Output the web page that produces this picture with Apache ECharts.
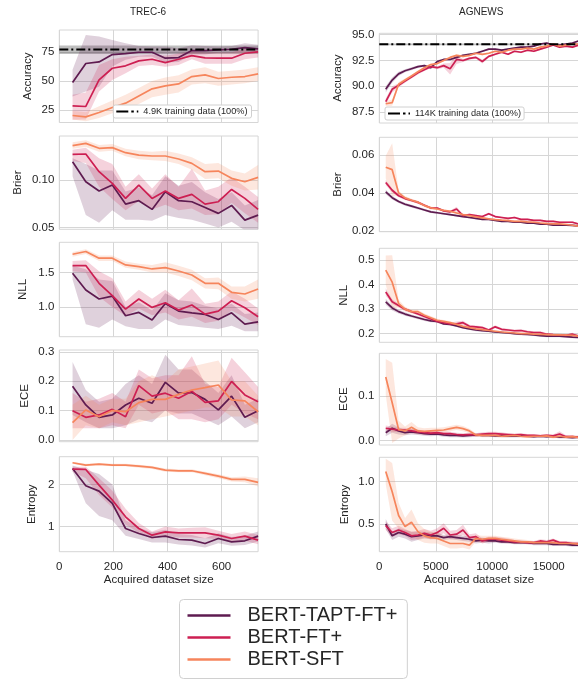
<!DOCTYPE html>
<html><head><meta charset="utf-8">
<script src="https://cdn.jsdelivr.net/npm/echarts@6/dist/echarts.min.js"></script>
<style>html,body{margin:0;padding:0;background:#fff}#c{width:578px;height:680px}</style>
</head><body><div id="c"></div>
<script>
const NAMES = ['BERT-TAPT-FT+','BERT-FT+','BERT-SFT'];
const COLORS = ['#5e1b50','#cd1f52','#f6855c'];
const BAND = ['rgba(94,27,80,0.2)','rgba(205,31,82,0.2)','rgba(246,133,92,0.2)'];
const REF_TREC_NAME = '4.9K training data (100%)';
const REF_AG_NAME = '114K training data (100%)';

const TREC_X = [49,98,147,196,245,294,343,392,441,490,539,588,637,686,735];
const AG_X = [570,1140,1710,2280,2850,3420,3990,4560,5130,5700,6270,6840,7410,7980,8550,9120,9690,10260,10830,11400,11970,12540,13110,13680,14250,14820,15390,15960,16530,17100,17670];
const TREC_XTICKS = [0,200,400,600];
const AG_XTICKS = [0,5000,10000,15000];

// TREC-6 accuracy
const TREC_REF_ACC = 77.3, TREC_REF_LO = 73.5, TREC_REF_HI = 80.8;
const TREC_ACC_TAPT = [48.7,65.2,66.6,73.0,73.8,75.0,75.0,69.8,70.4,76.4,76.4,77.0,77.6,79.0,77.9];
const TREC_ACC_TAPT_LO = [36.6,40.9,45.0,62.6,68.4,71.0,71.0,66.0,66.5,73.0,73.0,74.5,74.5,75.5,74.5];
const TREC_ACC_TAPT_HI = [59.7,90.0,88.6,85.7,82.8,80.5,80.0,79.9,78.5,81.0,80.5,80.0,80.5,82.8,81.5];
const TREC_ACC_FT = [28.5,27.9,51.0,61.1,63.2,67.5,68.9,66.0,68.9,72.1,70.1,69.8,69.8,74.1,75.3];
const TREC_ACC_FT_LO = [16.3,16.5,40.9,51.0,56.8,63.0,64.0,62.5,64.0,69.0,65.0,65.0,65.0,69.0,70.5];
const TREC_ACC_FT_HI = [38.0,40.0,64.0,68.9,71.0,72.0,73.0,72.0,74.0,76.0,75.0,75.0,75.0,78.0,78.0];
const TREC_ACC_SFT = [20.1,18.9,22.7,27.0,30.8,37.1,43.2,45.8,47.5,53.9,55.3,52.2,53.3,53.9,56.2];
const TREC_ACC_SFT_LO = [16.5,15.0,18.0,22.0,24.0,30.0,36.0,38.0,40.0,47.0,48.0,46.0,47.0,48.0,50.0];
const TREC_ACC_SFT_HI = [24.0,23.0,28.0,33.0,38.0,44.0,50.0,53.0,55.0,60.0,62.0,58.0,59.0,60.0,62.0];
// TREC-6 Brier
const TREC_BRIER_TAPT = [0.1194,0.0982,0.0884,0.0947,0.0746,0.0782,0.0690,0.0877,0.0782,0.0771,0.0711,0.0648,0.0732,0.0577,0.0630];
const TREC_BRIER_TAPT_LO = [0.104,0.063,0.055,0.068,0.058,0.058,0.057,0.063,0.060,0.058,0.054,0.050,0.056,0.047,0.047];
const TREC_BRIER_TAPT_HI = [0.123,0.117,0.110,0.110,0.088,0.092,0.084,0.104,0.094,0.098,0.087,0.080,0.087,0.073,0.079];
const TREC_BRIER_FT = [0.1271,0.1275,0.1088,0.0965,0.0806,0.0947,0.0806,0.0884,0.0806,0.0849,0.0746,0.0771,0.0901,0.0806,0.0690];
const TREC_BRIER_FT_LO = [0.120,0.118,0.093,0.080,0.068,0.078,0.069,0.074,0.068,0.070,0.063,0.064,0.076,0.065,0.055];
const TREC_BRIER_FT_HI = [0.132,0.134,0.123,0.117,0.093,0.106,0.091,0.106,0.093,0.112,0.089,0.093,0.103,0.093,0.082];
const TREC_BRIER_SFT = [0.1363,0.1387,0.1335,0.1342,0.1289,0.1264,0.1254,0.1254,0.1222,0.1176,0.1088,0.1095,0.1018,0.0982,0.1028];
const TREC_BRIER_SFT_LO = [0.133,0.135,0.130,0.131,0.125,0.122,0.121,0.120,0.117,0.111,0.101,0.102,0.094,0.089,0.090];
const TREC_BRIER_SFT_HI = [0.140,0.142,0.137,0.138,0.133,0.131,0.130,0.131,0.128,0.124,0.117,0.118,0.110,0.107,0.116];
// TREC-6 NLL
const TREC_NLL_TAPT = [1.490,1.248,1.117,1.160,0.874,0.922,0.811,1.053,0.942,0.917,0.893,0.820,0.917,0.752,0.786];
const TREC_NLL_TAPT_LO = [1.40,0.75,0.70,0.82,0.72,0.68,0.68,0.82,0.74,0.72,0.70,0.68,0.73,0.65,0.65];
const TREC_NLL_TAPT_HI = [1.60,1.55,1.40,1.38,1.00,1.07,0.95,1.20,1.10,1.08,1.02,0.98,1.05,0.90,0.92];
const TREC_NLL_FT = [1.602,1.602,1.345,1.165,0.971,1.117,0.995,1.063,0.956,1.029,0.898,0.942,1.092,0.990,0.859];
const TREC_NLL_FT_LO = [1.52,1.50,1.15,1.00,0.87,0.98,0.88,0.92,0.82,0.86,0.77,0.80,0.95,0.85,0.74];
const TREC_NLL_FT_HI = [1.67,1.68,1.52,1.42,1.08,1.25,1.12,1.25,1.10,1.27,1.05,1.08,1.23,1.12,0.98];
const TREC_NLL_SFT = [1.767,1.806,1.709,1.709,1.612,1.587,1.553,1.573,1.524,1.466,1.345,1.345,1.214,1.190,1.262];
const TREC_NLL_SFT_LO = [1.73,1.77,1.67,1.67,1.57,1.54,1.50,1.50,1.45,1.39,1.27,1.26,1.12,1.08,1.12];
const TREC_NLL_SFT_HI = [1.80,1.84,1.75,1.75,1.66,1.63,1.61,1.65,1.60,1.54,1.42,1.43,1.30,1.30,1.40];
// TREC-6 ECE
const TREC_ECE_TAPT = [0.183,0.119,0.077,0.085,0.119,0.142,0.125,0.196,0.159,0.161,0.138,0.102,0.149,0.077,0.099];
const TREC_ECE_TAPT_LO = [0.085,0.06,0.04,0.04,0.05,0.07,0.06,0.10,0.09,0.09,0.07,0.05,0.08,0.04,0.06];
const TREC_ECE_TAPT_HI = [0.265,0.17,0.13,0.14,0.19,0.22,0.19,0.29,0.24,0.24,0.20,0.16,0.22,0.12,0.14];
const TREC_ECE_FT = [0.099,0.077,0.085,0.104,0.079,0.185,0.149,0.159,0.142,0.166,0.128,0.133,0.199,0.153,0.130];
const TREC_ECE_FT_LO = [0.04,0.04,0.04,0.05,0.04,0.12,0.09,0.10,0.07,0.07,0.06,0.07,0.12,0.09,0.07];
const TREC_ECE_FT_HI = [0.16,0.13,0.14,0.16,0.13,0.24,0.21,0.22,0.22,0.285,0.19,0.18,0.28,0.23,0.18];
const TREC_ECE_SFT = [0.059,0.102,0.079,0.100,0.096,0.127,0.138,0.138,0.155,0.170,0.178,0.187,0.136,0.133,0.096];
const TREC_ECE_SFT_LO = [0.0,0.05,0.04,0.06,0.05,0.06,0.07,0.08,0.09,0.10,0.11,0.11,0.08,0.08,0.05];
const TREC_ECE_SFT_HI = [0.12,0.15,0.12,0.14,0.14,0.20,0.22,0.20,0.24,0.25,0.26,0.27,0.20,0.20,0.15];
// TREC-6 Entropy
const TREC_ENT_TAPT = [2.381,1.968,1.841,1.548,0.952,0.833,0.738,0.770,0.690,0.675,0.595,0.714,0.635,0.659,0.770];
const TREC_ENT_TAPT_LO = [2.32,1.55,1.25,1.15,0.78,0.70,0.62,0.62,0.57,0.55,0.50,0.60,0.54,0.56,0.64];
const TREC_ENT_TAPT_HI = [2.45,2.35,2.25,2.00,1.15,0.97,0.86,0.92,0.82,0.80,0.72,0.84,0.75,0.78,0.88];
const TREC_ENT_FT = [2.365,2.357,1.984,1.627,1.230,0.952,0.794,0.873,0.849,0.849,0.849,0.794,0.714,0.770,0.675];
const TREC_ENT_FT_LO = [2.30,2.15,1.75,1.45,1.05,0.85,0.70,0.78,0.74,0.74,0.72,0.70,0.63,0.66,0.58];
const TREC_ENT_FT_HI = [2.42,2.42,2.15,1.85,1.42,1.08,0.88,1.00,0.95,0.97,0.98,0.90,0.82,0.88,0.80];
const TREC_ENT_SFT = [2.516,2.460,2.484,2.460,2.460,2.437,2.405,2.341,2.325,2.325,2.262,2.198,2.119,2.119,2.048];
const TREC_ENT_SFT_LO = [2.49,2.43,2.45,2.43,2.43,2.40,2.37,2.30,2.29,2.29,2.22,2.15,2.07,2.05,1.95];
const TREC_ENT_SFT_HI = [2.54,2.49,2.51,2.49,2.49,2.47,2.44,2.38,2.36,2.36,2.30,2.24,2.17,2.19,2.15];

// AGNEWS accuracy
const AG_REF_ACC = 94.07, AG_REF_LO = 93.99, AG_REF_HI = 94.15;
const AG_ACC_TAPT = [89.7,90.6,91.2,91.5,91.7,91.9,92.0,91.8,92.4,92.6,92.6,92.8,93.0,93.1,93.2,93.4,93.6,93.6,93.5,93.6,93.7,93.8,93.8,93.9,94.1,94.2,94.0,94.0,94.1,94.2,94.4];
const AG_ACC_TAPT_SD = [0.30,0.25,0.20,0.15,0.15,0.12,0.12,0.15,0.12,0.10,0.10,0.10,0.10,0.10,0.10,0.10,0.08,0.08,0.08,0.08,0.08,0.08,0.08,0.08,0.08,0.08,0.08,0.08,0.08,0.08,0.08];
const AG_ACC_FT = [88.5,89.7,90.1,90.5,90.9,91.3,91.6,91.9,91.8,92.0,91.7,92.6,92.5,92.7,92.8,92.4,92.9,93.1,93.3,93.1,93.4,93.3,93.5,93.4,93.6,93.8,94.0,93.8,93.9,93.8,94.0];
const AG_ACC_FT_SD = [0.30,0.30,0.20,0.15,0.15,0.15,0.12,0.12,0.15,0.20,0.55,0.45,0.15,0.12,0.12,0.20,0.12,0.10,0.10,0.10,0.10,0.10,0.10,0.10,0.10,0.10,0.10,0.10,0.10,0.10,0.10];
const AG_ACC_SFT = [88.3,88.4,90.2,90.6,91.0,91.4,91.8,92.1,92.2,92.5,92.8,93.0,92.9,93.0,93.2,93.1,93.2,93.4,93.3,93.5,93.6,93.6,93.7,93.6,93.8,93.9,94.1,93.9,94.0,94.1,94.1];
const AG_ACC_SFT_SD = [0.25,0.30,0.20,0.15,0.12,0.12,0.10,0.10,0.10,0.10,0.10,0.10,0.10,0.10,0.10,0.10,0.10,0.10,0.10,0.10,0.08,0.08,0.08,0.08,0.08,0.08,0.08,0.08,0.08,0.08,0.08];
// AGNEWS Brier
const AG_BRIER_TAPT = [0.0405,0.0375,0.0355,0.0340,0.0330,0.0320,0.0310,0.0300,0.0295,0.0290,0.0285,0.0280,0.0275,0.0270,0.0265,0.0260,0.0260,0.0255,0.0250,0.0250,0.0245,0.0245,0.0240,0.0240,0.0235,0.0235,0.0230,0.0230,0.0230,0.0228,0.0225];
const AG_BRIER_TAPT_SD = [0.0012,0.0010,0.0008,0.0008,0.0007,0.0007,0.0006,0.0006,0.0006,0.0006,0.0005,0.0005,0.0005,0.0005,0.0005,0.0005,0.0005,0.0005,0.0005,0.0004,0.0004,0.0004,0.0004,0.0004,0.0004,0.0004,0.0004,0.0004,0.0004,0.0004,0.0004];
const AG_BRIER_FT = [0.0455,0.0414,0.0385,0.0370,0.0360,0.0350,0.0335,0.0320,0.0320,0.0305,0.0300,0.0315,0.0280,0.0285,0.0280,0.0275,0.0290,0.0275,0.0270,0.0265,0.0270,0.0260,0.0260,0.0255,0.0255,0.0250,0.0250,0.0245,0.0245,0.0245,0.0235];
const AG_BRIER_FT_SD = [0.0015,0.0010,0.0008,0.0008,0.0007,0.0007,0.0006,0.0006,0.0006,0.0006,0.0006,0.0012,0.0006,0.0006,0.0005,0.0005,0.0006,0.0005,0.0005,0.0005,0.0005,0.0005,0.0005,0.0005,0.0005,0.0006,0.0005,0.0005,0.0005,0.0005,0.0005];
const AG_BRIER_SFT = [0.0536,0.0523,0.0400,0.0374,0.0361,0.0351,0.0333,0.0321,0.0315,0.0308,0.0303,0.0294,0.0285,0.0280,0.0273,0.0268,0.0263,0.0259,0.0256,0.0254,0.0250,0.0250,0.0247,0.0245,0.0241,0.0238,0.0236,0.0236,0.0233,0.0229,0.0224];
const AG_BRIER_SFT_SD = [0.0060,0.0140,0.0012,0.0010,0.0008,0.0008,0.0007,0.0007,0.0007,0.0006,0.0006,0.0006,0.0006,0.0006,0.0006,0.0005,0.0005,0.0005,0.0005,0.0005,0.0005,0.0005,0.0005,0.0005,0.0005,0.0005,0.0005,0.0005,0.0005,0.0005,0.0005];
// AGNEWS NLL
const AG_NLL_TAPT = [0.330,0.305,0.290,0.280,0.272,0.265,0.258,0.252,0.250,0.240,0.238,0.232,0.225,0.220,0.215,0.212,0.210,0.207,0.205,0.203,0.200,0.198,0.197,0.195,0.192,0.190,0.190,0.190,0.188,0.186,0.185];
const AG_NLL_TAPT_SD = [0.012,0.010,0.008,0.007,0.006,0.006,0.006,0.005,0.005,0.005,0.005,0.005,0.005,0.005,0.005,0.004,0.004,0.004,0.004,0.004,0.004,0.004,0.004,0.004,0.004,0.004,0.004,0.004,0.004,0.004,0.004];
const AG_NLL_FT = [0.370,0.330,0.315,0.300,0.290,0.280,0.270,0.260,0.250,0.245,0.240,0.240,0.245,0.230,0.228,0.225,0.215,0.228,0.218,0.215,0.212,0.213,0.208,0.205,0.205,0.198,0.196,0.195,0.193,0.198,0.190];
const AG_NLL_FT_SD = [0.015,0.010,0.008,0.007,0.006,0.006,0.006,0.006,0.006,0.006,0.006,0.010,0.008,0.006,0.005,0.005,0.005,0.006,0.005,0.005,0.005,0.005,0.005,0.005,0.005,0.005,0.005,0.005,0.005,0.006,0.005];
const AG_NLL_SFT = [0.459,0.410,0.323,0.300,0.290,0.290,0.275,0.265,0.255,0.250,0.245,0.238,0.230,0.225,0.220,0.217,0.213,0.210,0.207,0.205,0.203,0.200,0.200,0.198,0.197,0.196,0.195,0.195,0.194,0.193,0.190];
const AG_NLL_SFT_SD = [0.060,0.110,0.015,0.010,0.008,0.008,0.007,0.007,0.006,0.006,0.006,0.006,0.006,0.005,0.005,0.005,0.005,0.005,0.005,0.005,0.005,0.005,0.005,0.005,0.005,0.005,0.005,0.005,0.005,0.005,0.005];
// AGNEWS ECE
const AG_ECE_TAPT = [0.018,0.028,0.022,0.018,0.020,0.018,0.016,0.015,0.015,0.013,0.012,0.012,0.011,0.012,0.013,0.012,0.012,0.011,0.011,0.010,0.010,0.011,0.010,0.009,0.010,0.009,0.010,0.008,0.008,0.007,0.008];
const AG_ECE_TAPT_SD = [0.008,0.010,0.008,0.006,0.006,0.005,0.005,0.005,0.004,0.004,0.004,0.004,0.004,0.004,0.004,0.003,0.003,0.003,0.003,0.003,0.003,0.003,0.003,0.003,0.003,0.003,0.003,0.003,0.003,0.003,0.003];
const AG_ECE_FT = [0.028,0.026,0.024,0.024,0.022,0.020,0.018,0.017,0.018,0.016,0.016,0.014,0.013,0.014,0.013,0.015,0.016,0.016,0.015,0.014,0.013,0.014,0.012,0.012,0.011,0.012,0.011,0.015,0.009,0.009,0.008];
const AG_ECE_FT_SD = [0.006,0.006,0.005,0.005,0.005,0.005,0.004,0.004,0.004,0.004,0.004,0.004,0.004,0.004,0.004,0.004,0.004,0.004,0.004,0.003,0.003,0.003,0.003,0.003,0.003,0.003,0.003,0.006,0.003,0.003,0.003];
const AG_ECE_SFT = [0.143,0.085,0.025,0.022,0.030,0.022,0.021,0.022,0.023,0.024,0.027,0.030,0.027,0.022,0.013,0.012,0.012,0.012,0.010,0.011,0.012,0.010,0.009,0.010,0.010,0.011,0.008,0.010,0.008,0.009,0.007];
const AG_ECE_SFT_SD = [0.040,0.090,0.020,0.010,0.012,0.008,0.007,0.007,0.006,0.006,0.006,0.006,0.006,0.005,0.004,0.004,0.004,0.003,0.003,0.003,0.003,0.003,0.003,0.003,0.003,0.003,0.003,0.003,0.003,0.003,0.003];
// AGNEWS Entropy
const AG_ENT_TAPT = [0.50,0.36,0.40,0.38,0.35,0.36,0.37,0.36,0.36,0.34,0.35,0.34,0.33,0.32,0.30,0.31,0.30,0.30,0.29,0.29,0.28,0.28,0.28,0.27,0.27,0.27,0.26,0.26,0.26,0.25,0.25];
const AG_ENT_TAPT_SD = [0.06,0.05,0.05,0.05,0.06,0.05,0.04,0.04,0.04,0.03,0.03,0.03,0.03,0.03,0.03,0.03,0.03,0.02,0.02,0.02,0.02,0.02,0.02,0.02,0.02,0.02,0.02,0.02,0.02,0.02,0.02];
const AG_ENT_FT = [0.48,0.40,0.43,0.40,0.36,0.37,0.39,0.37,0.40,0.45,0.37,0.38,0.43,0.34,0.35,0.30,0.32,0.32,0.31,0.30,0.29,0.29,0.28,0.28,0.30,0.29,0.31,0.28,0.28,0.27,0.27];
const AG_ENT_FT_SD = [0.05,0.05,0.05,0.04,0.05,0.05,0.05,0.05,0.05,0.06,0.05,0.05,0.06,0.04,0.04,0.03,0.03,0.03,0.03,0.03,0.02,0.02,0.02,0.02,0.02,0.02,0.02,0.02,0.02,0.02,0.02];
const AG_ENT_SFT = [1.12,0.88,0.60,0.47,0.52,0.41,0.36,0.34,0.33,0.30,0.27,0.27,0.27,0.25,0.33,0.32,0.33,0.33,0.32,0.31,0.30,0.29,0.29,0.28,0.28,0.28,0.28,0.27,0.27,0.27,0.26];
const AG_ENT_SFT_SD = [0.15,0.34,0.15,0.10,0.15,0.10,0.08,0.07,0.06,0.06,0.06,0.06,0.05,0.05,0.04,0.04,0.03,0.03,0.03,0.03,0.03,0.03,0.02,0.02,0.02,0.02,0.02,0.02,0.02,0.02,0.02];

// ---------- building ----------
const FONT = '"Liberation Sans", Arial, sans-serif';
const TXT = '#262626';
const GRIDC = '#d6d6d6';

function trec(m, lo, hi){ return {mean:m, lo:lo, hi:hi}; }
function ag(m, sd){ return {mean:m, lo:m.map((v,j)=>v-sd[j]), hi:m.map((v,j)=>v+sd[j])}; }

const PANELS = [
 {col:0, name:'Accuracy', top:30, bottom:122.5, y:[14,94.3], ticks:[25,50,75], dec:0, gap:25,
  runs:[trec(TREC_ACC_TAPT,TREC_ACC_TAPT_LO,TREC_ACC_TAPT_HI),trec(TREC_ACC_FT,TREC_ACC_FT_LO,TREC_ACC_FT_HI),trec(TREC_ACC_SFT,TREC_ACC_SFT_LO,TREC_ACC_SFT_HI)],
  ref:{name:REF_TREC_NAME, v:TREC_REF_ACC, lo:TREC_REF_LO, hi:TREC_REF_HI}},
 {col:0, name:'Brier', top:136, bottom:229.3, y:[0.048,0.1465], ticks:[0.05,0.10], dec:2, gap:35,
  runs:[trec(TREC_BRIER_TAPT,TREC_BRIER_TAPT_LO,TREC_BRIER_TAPT_HI),trec(TREC_BRIER_FT,TREC_BRIER_FT_LO,TREC_BRIER_FT_HI),trec(TREC_BRIER_SFT,TREC_BRIER_SFT_LO,TREC_BRIER_SFT_HI)]},
 {col:0, name:'NLL', top:242.3, bottom:336.7, y:[0.57,1.94], ticks:[1.0,1.5], dec:1, gap:30,
  runs:[trec(TREC_NLL_TAPT,TREC_NLL_TAPT_LO,TREC_NLL_TAPT_HI),trec(TREC_NLL_FT,TREC_NLL_FT_LO,TREC_NLL_FT_HI),trec(TREC_NLL_SFT,TREC_NLL_SFT_LO,TREC_NLL_SFT_HI)]},
 {col:0, name:'ECE', top:350, bottom:441.7, y:[-0.006,0.306], ticks:[0.0,0.1,0.2,0.3], dec:1, gap:28,
  runs:[trec(TREC_ECE_TAPT,TREC_ECE_TAPT_LO,TREC_ECE_TAPT_HI),trec(TREC_ECE_FT,TREC_ECE_FT_LO,TREC_ECE_FT_HI),trec(TREC_ECE_SFT,TREC_ECE_SFT_LO,TREC_ECE_SFT_HI)]},
 {col:0, name:'Entropy', top:456.7, bottom:551.7, y:[0.4,2.66], ticks:[1,2], dec:0, gap:21,
  runs:[trec(TREC_ENT_TAPT,TREC_ENT_TAPT_LO,TREC_ENT_TAPT_HI),trec(TREC_ENT_FT,TREC_ENT_FT_LO,TREC_ENT_FT_HI),trec(TREC_ENT_SFT,TREC_ENT_SFT_LO,TREC_ENT_SFT_HI)]},
 {col:1, name:'Accuracy', top:33.3, bottom:123, y:[86.43,95.14], ticks:[87.5,90.0,92.5,95.0], dec:1, gap:35,
  runs:[ag(AG_ACC_TAPT,AG_ACC_TAPT_SD),ag(AG_ACC_FT,AG_ACC_FT_SD),ag(AG_ACC_SFT,AG_ACC_SFT_SD)],
  ref:{name:REF_AG_NAME, v:AG_REF_ACC, lo:AG_REF_LO, hi:AG_REF_HI}},
 {col:1, name:'Brier', top:137.3, bottom:231.7, y:[0.0195,0.0694], ticks:[0.02,0.04,0.06], dec:2, gap:35,
  runs:[ag(AG_BRIER_TAPT,AG_BRIER_TAPT_SD),ag(AG_BRIER_FT,AG_BRIER_FT_SD),ag(AG_BRIER_SFT,AG_BRIER_SFT_SD)]},
 {col:1, name:'NLL', top:248.3, bottom:342.3, y:[0.165,0.548], ticks:[0.2,0.3,0.4,0.5], dec:1, gap:29,
  runs:[ag(AG_NLL_TAPT,AG_NLL_TAPT_SD),ag(AG_NLL_FT,AG_NLL_FT_SD),ag(AG_NLL_SFT,AG_NLL_SFT_SD)]},
 {col:1, name:'ECE', top:353.3, bottom:445, y:[-0.0096,0.196], ticks:[0.0,0.1], dec:1, gap:29,
  runs:[ag(AG_ECE_TAPT,AG_ECE_TAPT_SD),ag(AG_ECE_FT,AG_ECE_FT_SD),ag(AG_ECE_SFT,AG_ECE_SFT_SD)]},
 {col:1, name:'Entropy', top:457.3, bottom:551.7, y:[0.173,1.288], ticks:[0.5,1.0], dec:1, gap:28,
  runs:[ag(AG_ENT_TAPT,AG_ENT_TAPT_SD),ag(AG_ENT_FT,AG_ENT_FT_SD),ag(AG_ENT_SFT,AG_ENT_SFT_SD)]}
];

function bandSeries(i, xs, lo, hi, fill, z){
  return {type:'custom', xAxisIndex:i, yAxisIndex:i, clip:true, silent:true, z:z,
    data:[[xs[0], lo[0]]],
    renderItem:function(params, api){
      const pts = [];
      for (let j=0;j<xs.length;j++) pts.push(api.coord([xs[j], hi[j]]));
      for (let j=xs.length-1;j>=0;j--) pts.push(api.coord([xs[j], lo[j]]));
      return {type:'polygon', shape:{points:pts}, style:{fill:fill}};
    }};
}

const option = {backgroundColor:'#ffffff', animation:false, textStyle:{fontFamily:FONT},
  title:[
    {text:'TREC-6', left:130, top:7, padding:0, textStyle:{fontSize:10, fontWeight:'normal', color:TXT, fontFamily:FONT}},
    {text:'AGNEWS', left:459, top:7, padding:0, textStyle:{fontSize:10, fontWeight:'normal', color:TXT, fontFamily:FONT}}
  ],
  grid:[], xAxis:[], yAxis:[], series:[], legend:[]};

PANELS.forEach(function(p, i){
  const left = p.col===0 ? 59.3 : 379.3;
  const width = p.col===0 ? 198.8 : 199.6;
  const xs = p.col===0 ? TREC_X : AG_X;
  const xt = p.col===0 ? TREC_XTICKS : AG_XTICKS;
  const xmax = p.col===0 ? 735 : 17670;
  const bottomRow = p.name==='Entropy';
  option.grid.push({left:left, top:p.top, width:width, height:p.bottom-p.top, show:true,
    borderColor:GRIDC, borderWidth:1, backgroundColor:'rgba(0,0,0,0)', containLabel:false, outerBoundsMode:'none'});
  option.xAxis.push({gridIndex:i, type:'value', min:0, max:xmax,
    axisLine:{show:false}, axisTick:{show:false, customValues:xt},
    axisLabel:{show:bottomRow, customValues:xt, color:TXT, fontSize:11.5, margin:9, fontFamily:FONT,
      formatter:function(v){ return String(Math.round(v)); }},
    splitLine:{show:true, lineStyle:{color:GRIDC, width:1}},
    name: bottomRow ? 'Acquired dataset size' : '', nameLocation:'middle', nameGap:22,
    nameTextStyle:{fontSize:11.5, color:TXT, fontFamily:FONT}});
  option.yAxis.push({gridIndex:i, type:'value', min:p.y[0], max:p.y[1],
    axisLine:{show:false}, axisTick:{show:false, customValues:p.ticks},
    axisLabel:{customValues:p.ticks, color:TXT, fontSize:11.5, margin:5, fontFamily:FONT,
      formatter:function(v){ return Number(v).toFixed(p.dec); }},
    splitLine:{show:true, lineStyle:{color:GRIDC, width:1}},
    name:p.name, nameLocation:'middle', nameGap:p.gap, nameRotate:90,
    nameTextStyle:{fontSize:11.5, color:TXT, fontFamily:FONT}});
  if (p.ref){
    option.series.push(bandSeries(i, [0, xmax], [p.ref.lo, p.ref.lo], [p.ref.hi, p.ref.hi], 'rgba(0,0,0,0.25)', 1));
  }
  p.runs.forEach(function(r, s){
    option.series.push(bandSeries(i, xs, r.lo, r.hi, BAND[s], 2));
  });
  p.runs.forEach(function(r, s){
    option.series.push({type:'line', name:NAMES[s], xAxisIndex:i, yAxisIndex:i,
      data: xs.map(function(x, j){ return [x, r.mean[j]]; }),
      symbol:'none', showSymbol:false, silent:true, z:3, clip:true,
      color:COLORS[s], itemStyle:{color:COLORS[s]}, lineStyle:{color:COLORS[s], width:1.7}});
  });
  if (p.ref){
    option.series.push({type:'line', name:p.ref.name, xAxisIndex:i, yAxisIndex:i,
      data:[[0, p.ref.v],[xmax, p.ref.v]], symbol:'none', silent:true, z:5,
      color:'#000', itemStyle:{color:'#000'}, lineStyle:{color:'#000', width:2, type:[9,3,2,3]}});
  }
});

const DASHDOT = 'path://M0,0h12v2h-12z M15,0h2.5v2h-2.5z M20.5,0h1.5v2h-1.5z';
option.legend = [
  {data:NAMES, orient:'vertical', left:179.5, top:599.5, icon:'rect', itemWidth:43, itemHeight:2.6, itemGap:2,
   padding:[6,10,9,8], backgroundColor:'#ffffff', borderColor:'#d0d0d0', borderWidth:1, borderRadius:4,
   selectedMode:false, itemStyle:{borderWidth:0},
   textStyle:{fontSize:20, color:TXT, fontFamily:FONT, padding:[0,0,0,12]}},
  {data:[REF_TREC_NAME], left:113.3, top:105, icon:DASHDOT, itemWidth:22, itemHeight:2, symbolKeepAspect:false,
   padding:[2,4,2,3], backgroundColor:'#ffffff', borderColor:'#d0d0d0', borderWidth:1, borderRadius:2,
   selectedMode:false, itemStyle:{borderWidth:0},
   textStyle:{fontSize:9.2, color:TXT, fontFamily:FONT}},
  {data:[REF_AG_NAME], left:385, top:107, icon:DASHDOT, itemWidth:22, itemHeight:2, symbolKeepAspect:false,
   padding:[2,3,2,3], backgroundColor:'#ffffff', borderColor:'#d0d0d0', borderWidth:1, borderRadius:2,
   selectedMode:false, itemStyle:{borderWidth:0},
   textStyle:{fontSize:9.2, color:TXT, fontFamily:FONT}}
];

const chart = echarts.init(document.getElementById('c'), null, {renderer:'canvas'});
chart.setOption(option);
</script>
</body></html>
